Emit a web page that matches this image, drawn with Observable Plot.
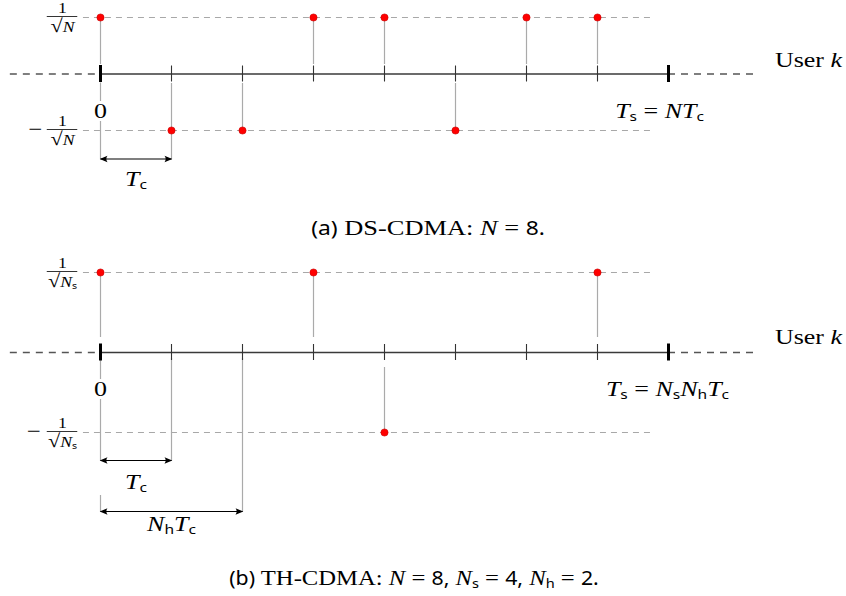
<!DOCTYPE html>
<html>
<head>
<meta charset="utf-8">
<script src="https://cdn.jsdelivr.net/npm/d3@7"></script>
<script src="https://cdn.jsdelivr.net/npm/@observablehq/plot@0.6"></script>
<style>
  html, body { margin: 0; padding: 0; background: #fff; }
  #fig { position: relative; width: 846px; height: 596px; overflow: hidden; font-family: "Liberation Serif", serif; }
  #fig svg { position: absolute; left: 0; }
  .cap { position: absolute; white-space: nowrap; font-size: 22px; line-height: 22px; color: #000; }
  #capA { transform: translateX(-50%) scaleX(1.2); }
  #capB { transform: translateX(-50%) scaleX(1.12); }
  .cap i { font-style: italic; }
  .sf { font-family: "Noto Sans", sans-serif; font-size: 19px; }
  .cap sub { font-family: "Noto Sans", sans-serif; font-size: 13px; vertical-align: -3px; line-height: 0; }
</style>
</head>
<body>
<div id="fig"></div>
<script>
// Chip grid: one symbol lasts N chips of duration Tc
const chips = [0, 1, 2, 3, 4, 5, 6, 7];
const N = chips.length;

// DS-CDMA: a signed pulse on every chip
const dsSigns = [1, -1, -1, 1, 1, -1, 1, 1];

// TH-CDMA: one signed pulse per frame of Nh chips
const thChips = [0, 3, 4, 7];
const thSigns = [1, 1, -1, 1];
const Ns = thChips.length;
const Nh = N / Ns;

const SERIF = "Liberation Serif";
const SANS = "Noto Sans";
const FS = 22;
const STRETCH = 1.18;   // wide text setting for the labels
const fig = document.getElementById("fig");

function panel(cfg) {
  const unit = (cfg.yBottom - cfg.yTop) / 2;   // pixels per amplitude level
  const u = (px) => px / unit;                  // pixel offset -> level units
  const pulses = cfg.chips.map((c, i) => ({chip: c, sign: cfg.signs[i]}));
  const levels = [1, -1];
  const guides = cfg.guides.map((g) => ({x: g.x, y1: -u(g.from), y2: -u(g.to)}));
  const brackets = cfg.brackets.map((b) => ({...b, y: -u(b.drop), ly: -u(b.labelDrop)}));
  const txt = {fontFamily: SERIF, fontSize: FS, fill: "#000"};

  return Plot.plot({
    width: 846,
    height: cfg.height,
    margin: 0,
    x: {domain: [0, N], range: [100, 668], axis: null},
    y: {domain: [-1, 1], range: [cfg.yBottom, cfg.yTop], axis: null},
    style: {overflow: "visible", background: "transparent"},
    marks: [
      // amplitude levels ±1/√N
      Plot.ruleY(levels, {x1: -0.24, x2: 7.75, stroke: "#a8a8a8", strokeWidth: 1, strokeDasharray: "6,5"}),
      // time axis, dashed beyond the symbol interval
      Plot.ruleY([0], {x1: -1.27, x2: 0, stroke: "#555", strokeWidth: 1.3, strokeDasharray: "7,6"}),
      Plot.ruleY([0], {x1: N, x2: N + 1.25, stroke: "#555", strokeWidth: 1.3, strokeDasharray: "7,6"}),
      Plot.ruleY([0], {x1: 0, x2: N, stroke: "#3a3a3a", strokeWidth: 1.6}),
      // guide lines down to the duration brackets
      Plot.ruleX(guides, {x: "x", y1: "y1", y2: "y2", stroke: "#aaa", strokeWidth: 1.2}),
      // pulse stems
      Plot.ruleX(pulses, {x: "chip", y1: (d) => d.sign * u(cfg.stemGap), y2: "sign", stroke: "#aaa", strokeWidth: 1.2}),
      // chip ticks and symbol boundaries
      Plot.ruleX(chips.slice(1), {y1: -u(8), y2: u(8), stroke: "#333", strokeWidth: 1.1}),
      Plot.ruleX([0, N], {y1: -u(8.5), y2: u(8.5), stroke: "#000", strokeWidth: 3}),
      // pulses
      Plot.dot(pulses, {x: "chip", y: "sign", r: 3.6, fill: "#ff0000", stroke: "#c80000", strokeWidth: 0.6}),
      // duration brackets
      Plot.link(brackets, {x1: 0, x2: "end", y1: "y", y2: "y", stroke: "#000", strokeWidth: 1.2, markerStart: "arrow", markerEnd: "arrow"}),
      Plot.text(brackets, {x: (d) => d.end / 2, y: "ly", text: "label", ...txt}),
      // level labels ±1/√N
      Plot.text(levels, {x: -0.535, y: (d) => d, dy: -9, text: () => "1", fontFamily: SERIF, fontSize: 15}),
      Plot.text(levels, {x: -0.535, y: (d) => d, dy: 10, text: () => cfg.root, fontFamily: SERIF, fontSize: 15}),
      Plot.ruleY(levels, {x1: -0.75, x2: -0.32, dy: -1, stroke: "#000", strokeWidth: 0.8}),
      Plot.text([-1], {x: cfg.minusX, y: (d) => d, dy: -1.5, text: () => "\u2212", fontFamily: SERIF, fontSize: 21}),
      // axis annotations
      Plot.text(["0"], {x: 0, y: 0, dy: cfg.zeroDy, text: (d) => d, ...txt, stroke: "#fff", strokeWidth: 6}),
      Plot.text([cfg.tsLabel], {x: N, y: 0, dx: cfg.tsDx, dy: cfg.zeroDy, text: (d) => d, ...txt}),
      Plot.text(["User $k$"], {x: 9.5, y: 0, dy: cfg.userDy, text: (d) => d, textAnchor: "start", ...txt})
    ]
  });
}

// Light math typesetting: $...$ switches to math (italic letters), _x is a sans subscript
function typeset(svg) {
  const ns = "http://www.w3.org/2000/svg";
  svg.querySelectorAll("text").forEach((el) => {
    const src = el.textContent;
    const fs = parseFloat(getComputedStyle(el).fontSize) || FS;
    // wide setting, scaled about the text anchor
    const tf = el.getAttribute("transform");
    if (tf) el.setAttribute("transform", `${tf} scale(${STRETCH},1)`);
    if (!src.includes("$") && !src.includes("\u221A")) return;
    const shift = 0.14 * fs;
    el.textContent = "";
    el.style.whiteSpace = "pre";
    let math = false, lowered = false;
    const put = (str, {italic = false, sub = false, size = null} = {}) => {
      const t = document.createElementNS(ns, "tspan");
      t.textContent = str;
      if (italic) t.setAttribute("font-style", "italic");
      if (size) t.setAttribute("font-size", size.toFixed(1));
      if (sub) {
        t.setAttribute("font-family", SANS);
        t.setAttribute("font-size", (0.6 * fs).toFixed(1));
        if (!lowered) t.setAttribute("dy", shift);
        lowered = true;
      } else if (lowered) {
        t.setAttribute("dy", -shift);
        lowered = false;
      }
      el.appendChild(t);
    };
    for (let i = 0; i < src.length; i++) {
      const c = src[i];
      if (c === "$") { math = !math; continue; }
      if (c === "\u221A") { put(c, {size: 1.25 * fs}); continue; }
      if (math && c === " ") continue;
      if (math && c === "_") { put(src[++i], {sub: true}); continue; }
      if (math && c === "=") { put(" = "); continue; }
      put(c, {italic: math && /[A-Za-z]/.test(c)});
    }
  });
}

// Filled arrow heads pointing outwards at both ends of the brackets
function arrowHeads(svg) {
  d3.select(svg).selectAll("marker")
    .attr("orient", "auto-start-reverse")
    .attr("markerUnits", "userSpaceOnUse")
    .attr("markerWidth", 10)
    .attr("markerHeight", 10)
    .attr("viewBox", "-5 -5 10 10")
    .style("overflow", "visible")
    .attr("fill", "#000")
    .attr("stroke", "none")
    .select("path")
    .attr("d", "M0.8,0 L-7,-3.2 Q-4.6,0 -7,3.2 Z");
}

function place(svg, top) {
  svg.style.top = top + "px";
  fig.appendChild(svg);
  typeset(svg);
  arrowHeads(svg);
}

// (a) DS-CDMA
place(panel({
  height: 212, yTop: 17, yBottom: 130,
  chips, signs: dsSigns,
  stemGap: 9.5,
  guides: [{x: 0, from: 9, to: 85}, {x: 1, from: 57, to: 85}],
  brackets: [{end: 1, drop: 85, labelDrop: 105, label: "$T_c$"}],
  root: "\u221A$N$",
  minusX: -0.92,
  zeroDy: 37, tsDx: -9, userDy: -14,
  tsLabel: "$T_s = NT_c$"
}), 0);

// (b) TH-CDMA
place(panel({
  height: 305, yTop: 27, yBottom: 187,
  chips: thChips, signs: thSigns,
  stemGap: 15,
  guides: [
    {x: 0, from: 8, to: 108}, {x: 0, from: 143, to: 159},
    {x: 1, from: 6, to: 108}, {x: 2, from: 6, to: 159}
  ],
  brackets: [
    {end: 1, drop: 108, labelDrop: 129, label: "$T_c$"},
    {end: Nh, drop: 159, labelDrop: 171, label: "$N_hT_c$"}
  ],
  root: "\u221A$N_s$",
  minusX: -0.94,
  zeroDy: 36, tsDx: -1, userDy: -16,
  tsLabel: "$T_s = N_sN_hT_c$"
}), 245);

// Captions
const capA = document.createElement("div");
capA.className = "cap";
capA.id = "capA";
capA.style.left = "428px";
capA.style.top = "217px";
capA.innerHTML = `<span class="sf">(a)</span> DS-CDMA: <i>N</i> = <span class="sf">${dsSigns.length}.</span>`;
fig.appendChild(capA);

const capB = document.createElement("div");
capB.className = "cap";
capB.id = "capB";
capB.style.left = "414px";
capB.style.top = "567px";
capB.innerHTML = `<span class="sf">(b)</span> TH-CDMA: <i>N</i> = <span class="sf">${N},</span> <i>N</i><sub>s</sub> = <span class="sf">${Ns},</span> <i>N</i><sub>h</sub> = <span class="sf">${Nh}.</span>`;
fig.appendChild(capB);
</script>
</body>
</html>
